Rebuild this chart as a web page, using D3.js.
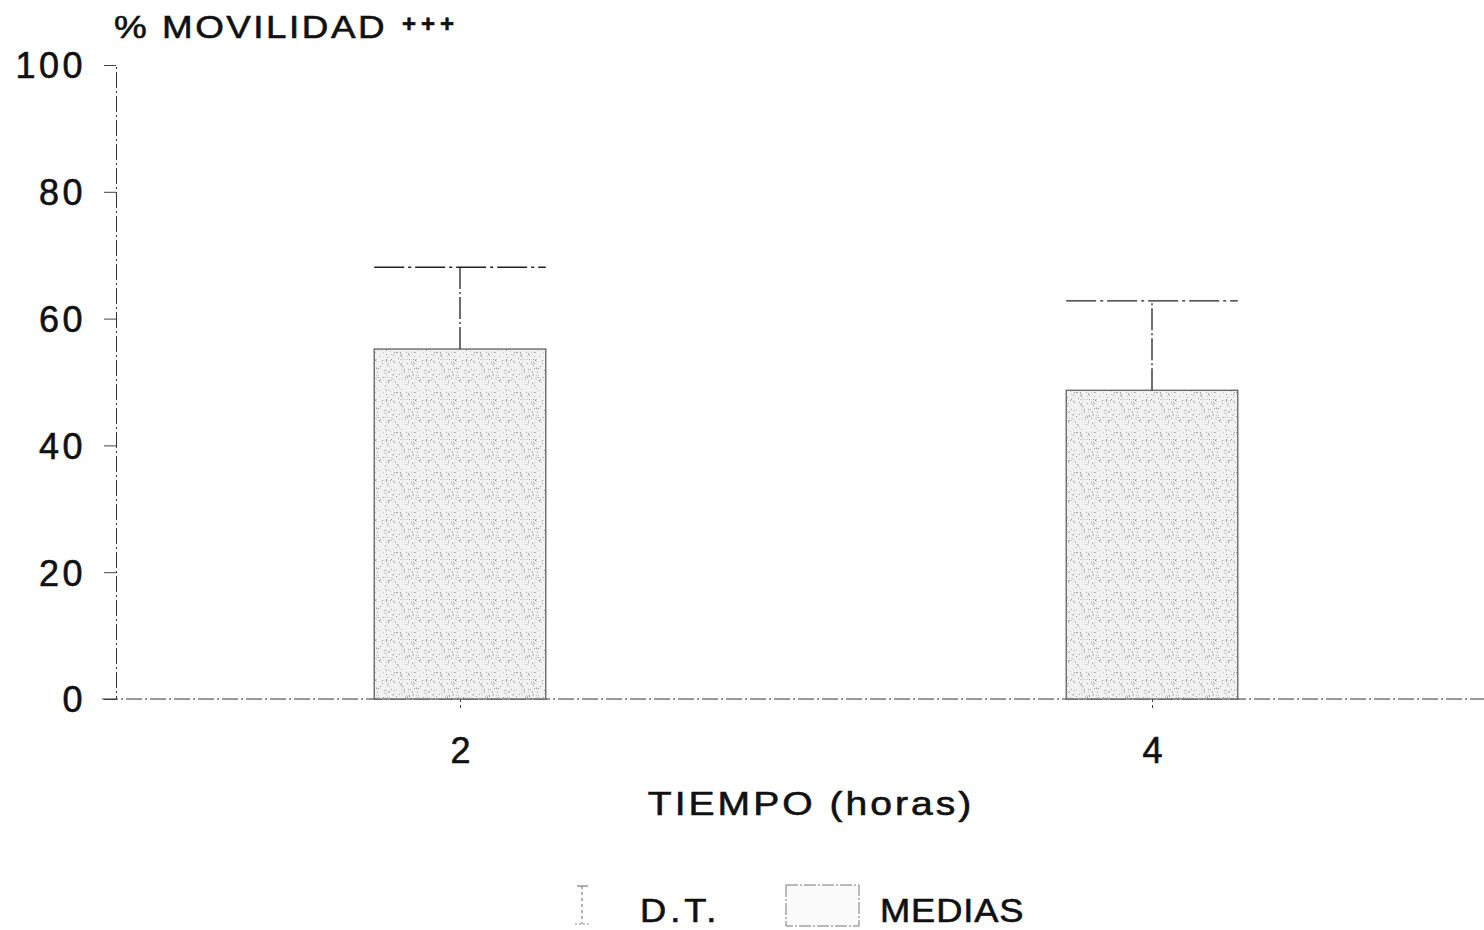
<!DOCTYPE html>
<html>
<head>
<meta charset="utf-8">
<script src="https://cdn.jsdelivr.net/npm/d3@7"></script>
<style>
  html, body { margin: 0; padding: 0; background: #fff; }
  svg { display: block; }
  text { font-family: "Liberation Sans", Arial, sans-serif; fill: #111; stroke: #111; stroke-width: 0.6px; }
</style>
</head>
<body>
<svg id="chart" width="1484" height="930"></svg>
<script>
// Motility (%) by time, mean and standard deviation
const tiempos = [2, 4];
const medias = [55.2, 48.7];
const desviaciones = [12.9, 14.1];
const yTicks = [0, 20, 40, 60, 80, 100];
const xTicks = [2, 4];

const svg = d3.select("#chart");
const W = 1484, H = 930;

const x = d3.scaleLinear().domain([1, 5]).range([114, 1498]);
const y = d3.scaleLinear().domain([0, 100]).range([699, 65]);
const barHalf = 0.248; // bar half-width in time units

// Wide lettering: text placed at (px, py), stretched horizontally by sx
function label(parent, px, py, str, size, sx, ls, anchor = "start") {
  const g = parent.append("g").attr("transform", `translate(${px},${py}) scale(${sx},1)`);
  return g.append("text").attr("font-size", size).attr("letter-spacing", ls)
    .attr("text-anchor", anchor).text(str);
}

// Stippled fill for the bars
const defs = svg.append("defs");
const pat = defs.append("pattern")
  .attr("id", "stipple").attr("patternUnits", "userSpaceOnUse")
  .attr("width", 40).attr("height", 40);
pat.append("rect").attr("width", 40).attr("height", 40).attr("fill", "#f1f1f1");
let seed = 17;
const lcg = () => (seed = (seed * 1103515245 + 12345) % 2147483648) / 2147483648;
for (let i = 0; i < 170; i++) {
  pat.append("rect")
    .attr("x", Math.floor(lcg() * 40)).attr("y", Math.floor(lcg() * 40))
    .attr("width", 1).attr("height", 1)
    .attr("fill", lcg() < 0.5 ? "#999" : "#c2c2c2");
}

const dash = "16,3,2,3";
const tickFont = (sel) => sel.attr("font-size", 36).attr("letter-spacing", 3.5)
  .attr("fill", "#111").attr("stroke", "#111").attr("stroke-width", 0.6)
  .style("font-family", '"Liberation Sans", Arial, sans-serif');

// Y axis
const yAxis = d3.axisLeft(y).tickValues(yTicks).tickSize(12).tickPadding(18);
const gy = svg.append("g").attr("transform", `translate(${x(1) + 2},0)`).call(yAxis);
gy.select(".domain").attr("stroke", "#333").attr("stroke-width", 1).attr("stroke-dasharray", dash);
gy.selectAll(".tick line").attr("stroke", "#444").attr("stroke-width", 1);
gy.selectAll(".tick text").call(tickFont).attr("dy", "0.36em");

// X axis
const xAxis = d3.axisBottom(x).tickValues(xTicks).tickSize(12).tickPadding(26)
  .tickFormat(d3.format("d")).tickSizeOuter(0);
const gx = svg.append("g").attr("transform", `translate(0,${y(0)})`).call(xAxis);
gx.select(".domain").attr("stroke", "#333").attr("stroke-width", 1).attr("stroke-dasharray", dash)
  .attr("d", `M${x(1) - 12},0H${W}`);
gx.selectAll(".tick line").attr("stroke", "#444").attr("stroke-width", 1).attr("stroke-dasharray", "3,3");
gx.selectAll(".tick text").call(tickFont).attr("letter-spacing", 0);

// Bars (means)
svg.append("g").selectAll("rect").data(tiempos).join("rect")
  .attr("x", (d) => x(d - barHalf))
  .attr("width", (d) => x(d + barHalf) - x(d - barHalf))
  .attr("y", (d, i) => y(medias[i]))
  .attr("height", (d, i) => y(0) - y(medias[i]))
  .attr("fill", "url(#stipple)")
  .attr("stroke", "#555").attr("stroke-width", 1.2);

// Error bars (standard deviation)
const eb = svg.append("g").attr("stroke", "#222").attr("stroke-width", 1.3);
eb.selectAll("line.v").data(tiempos).join("line").attr("class", "v")
  .attr("x1", (d) => x(d)).attr("x2", (d) => x(d))
  .attr("y1", (d, i) => y(medias[i]))
  .attr("y2", (d, i) => y(medias[i] + desviaciones[i]))
  .attr("stroke-dasharray", "22,3,2,3");
eb.selectAll("line.c").data(tiempos).join("line").attr("class", "c")
  .attr("x1", (d) => x(d - barHalf)).attr("x2", (d) => x(d + barHalf))
  .attr("y1", (d, i) => y(medias[i] + desviaciones[i]))
  .attr("y2", (d, i) => y(medias[i] + desviaciones[i]))
  .attr("stroke-dasharray", "30,4,3,4");

// Titles
label(svg, 114, 38, "% MOVILIDAD", 32, 1.15, 2.2);
label(svg, 402, 32, "+++", 24, 1, 5).attr("font-weight", "bold");
label(svg, 811, 815, "TIEMPO (horas)", 34, 1.15, 2.6, "middle");

// Legend
const lg = svg.append("g");
lg.append("line").attr("x1", 582).attr("x2", 582).attr("y1", 886).attr("y2", 924)
  .attr("stroke", "#666").attr("stroke-width", 1).attr("stroke-dasharray", "3,3");
lg.append("line").attr("x1", 577).attr("x2", 588).attr("y1", 886).attr("y2", 886)
  .attr("stroke", "#666").attr("stroke-width", 1);
lg.append("line").attr("x1", 575).attr("x2", 590).attr("y1", 924).attr("y2", 924)
  .attr("stroke", "#888").attr("stroke-width", 1).attr("stroke-dasharray", "2,2");
label(lg, 640, 922, "D.T.", 33, 1.1, 3.6);
lg.append("rect").attr("x", 786).attr("y", 885).attr("width", 73).attr("height", 41)
  .attr("fill", "#fbfbfb").attr("stroke", "#777").attr("stroke-width", 1)
  .attr("stroke-dasharray", "12,2,2,2");
label(lg, 880, 922, "MEDIAS", 33, 1.1, 0.8);
</script>
</body>
</html>
